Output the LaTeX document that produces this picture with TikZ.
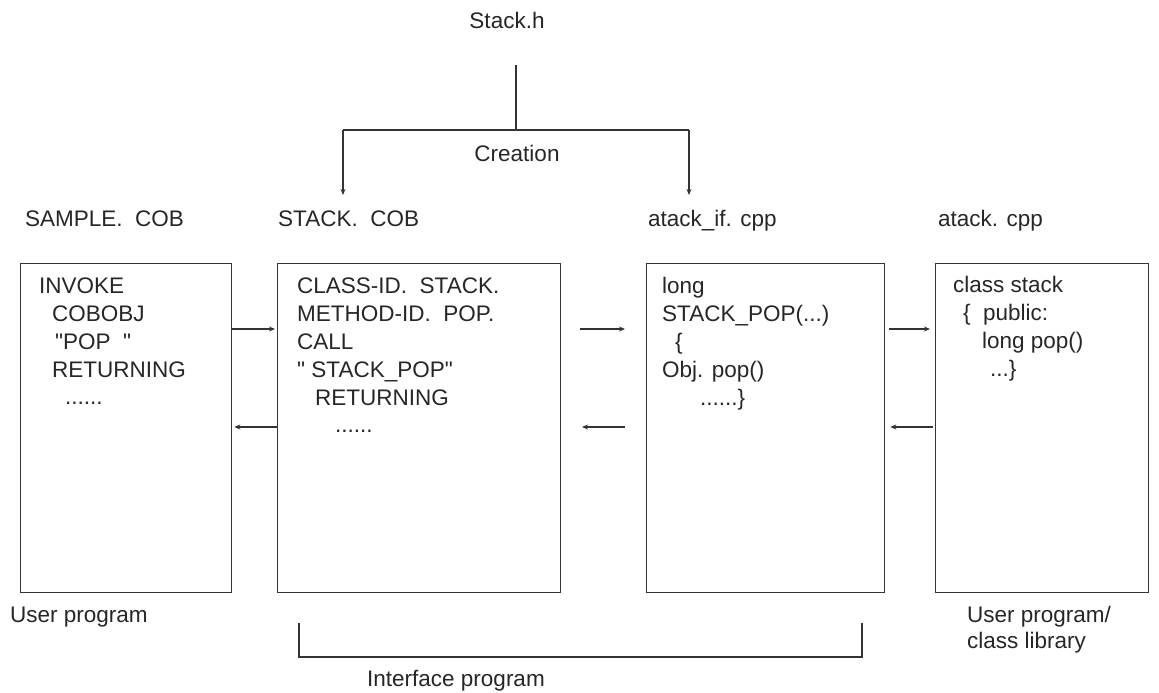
\documentclass[tikz,border=0pt]{standalone}
\usepackage{fontspec}
\setmainfont{Liberation Sans}[Ligatures=TeXOff]
\usetikzlibrary{arrows.meta}
\begin{document}
\begin{tikzpicture}[x=1pt,y=-1pt,
  txt/.style={inner sep=0pt,anchor=base west,font=\fontsize{22.5}{27}\selectfont,text=black!85},
  ctxt/.style={inner sep=0pt,anchor=base,font=\fontsize{22.5}{27}\selectfont,text=black!85},
  box/.style={draw=black!80,line width=1.3pt,inner sep=0pt,anchor=north west},
  ln/.style={draw=black!80,line width=1.3pt},
  arr/.style={ln,-{Stealth[length=6pt,width=5pt]}}]
\useasboundingbox (0,0) rectangle (1159,693);
% top
\node[ctxt] (sh) at (507,29) {Stack.h};
\node[ctxt] (cr) at (517,161) {Creation};
\coordinate (top) at (516,65);
\coordinate (mid) at (516,130);
\coordinate (jl) at (343,130);
\coordinate (jr) at (689,130);
\coordinate (tl) at (343,195);
\coordinate (tr) at (689,195);
\draw[ln] (top) -- (mid);
\draw[ln] (jl) -- (jr);
\draw[arr] (jl) -- (tl);
\draw[arr] (jr) -- (tr);
% file labels
\node[txt] (l1) at (25,226) {SAMPLE.\ \ COB};
\node[txt] (l2) at (278,226) {STACK.\ \ COB};
\node[txt] (l3) at (648,226) {atack\_if. cpp};
\node[txt] (l4) at (938,226) {atack. cpp};
% boxes
\node[box,minimum width=211pt,minimum height=329pt] (b1) at (20,263) {};
\node[box,minimum width=283pt,minimum height=329pt] (b2) at (277,263) {};
\node[box,minimum width=238pt,minimum height=329pt] (b3) at (646,263) {};
\node[box,minimum width=213pt,minimum height=329pt] (b4) at (935,263) {};
% box 1 text
\node[txt] (t11) at (39,293) {INVOKE};
\node[txt] (t12) at (52,321) {COBOBJ};
\node[txt] (t13) at (55,349) {"POP\ \ "};
\node[txt] (t14) at (52,377) {RETURNING};
\node[txt] (t15) at (65,404) {......};
% box 2 text
\node[txt] (t21) at (297,293) {CLASS-ID.\ \ STACK.};
\node[txt] (t22) at (297,321) {METHOD-ID.\ \ POP.};
\node[txt] (t23) at (297,349) {CALL};
\node[txt] (t24) at (297,377) {"\ STACK\_POP"};
\node[txt] (t25) at (315,405) {RETURNING};
\node[txt] (t26) at (335,432) {......};
% box 3 text
\node[txt] (t31) at (662,293) {long};
\node[txt] (t32) at (662,321) {STACK\_POP(...)};
\node[txt] (t33) at (675,349) {\{};
\node[txt] (t34) at (662,377) {Obj. pop()};
\node[txt] (t35) at (700,405) {......\}};
% box 4 text
\node[txt] (t41) at (953,292) {class stack};
\node[txt] (t42) at (963,320) {\{\ \ public:};
\node[txt] (t43) at (982,348) {long pop()};
\node[txt] (t44) at (990,376) {...\}};
% arrows between boxes
\coordinate (ra) at (0,329);
\coordinate (rb) at (0,427);
\draw[arr] (b1.east |- ra) -- ([xshift=-2pt]b2.west |- ra);
\draw[arr] (b2.west |- rb) -- ([xshift=2pt]b1.east |- rb);
\coordinate (m1s) at (580,329);
\coordinate (m1e) at (625,329);
\coordinate (m2s) at (625,427);
\coordinate (m2e) at (582,427);
\draw[arr] (m1s) -- (m1e);
\draw[arr] (m2s) -- (m2e);
\draw[arr] ([xshift=4pt]b3.east |- ra) -- ([xshift=-5pt]b4.west |- ra);
\draw[arr] ([xshift=-2pt]b4.west |- rb) -- ([xshift=5pt]b3.east |- rb);
% bottom labels
\node[txt] (u1) at (10,622) {User program};
\node[txt] (u2) at (967,622) {User program/};
\node[txt] (u3) at (967,648) {class library};
\coordinate (k1) at (299,623);
\coordinate (k2) at (299,657);
\coordinate (k3) at (862,657);
\coordinate (k4) at (862,623);
\draw[ln] (k1) -- (k2) -- (k3) -- (k4);
\node[txt] (ip) at (367,686) {Interface program};
\end{tikzpicture}
\end{document}
